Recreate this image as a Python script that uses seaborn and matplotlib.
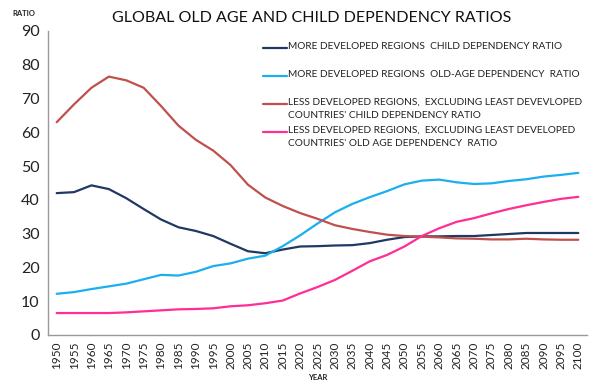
import numpy as np
import pandas as pd
import seaborn as sns
import matplotlib.pyplot as plt
from matplotlib.lines import Line2D

years = list(range(1950, 2101, 5))

# 선진국 아동 부양비
more_child = [42.0, 42.3, 44.3, 43.2, 40.5, 37.3, 34.2, 31.9, 30.8, 29.3, 27.0,
              24.8, 24.2, 25.3, 26.2, 26.3, 26.5, 26.6, 27.2, 28.2, 29.0,
              29.2, 29.2, 29.3, 29.3, 29.6, 29.9, 30.2, 30.2, 30.2, 30.2]
# 선진국 노년 부양비
more_old = [12.2, 12.7, 13.6, 14.4, 15.2, 16.5, 17.8, 17.6, 18.7, 20.4, 21.2,
            22.6, 23.5, 26.3, 29.5, 33.0, 36.3, 38.8, 40.8, 42.6, 44.6,
            45.7, 46.0, 45.2, 44.7, 44.9, 45.6, 46.1, 46.9, 47.4, 48.0]
# 개도국 아동 부양비
less_child = [63.0, 68.3, 73.2, 76.5, 75.4, 73.2, 67.8, 62.0, 57.8, 54.6, 50.3,
              44.5, 40.7, 38.2, 36.1, 34.4, 32.5, 31.4, 30.5, 29.7, 29.3,
              29.1, 28.9, 28.6, 28.5, 28.3, 28.3, 28.5, 28.3, 28.2, 28.2]
# 개도국 노년 부양비
less_old = [6.5, 6.5, 6.5, 6.5, 6.7, 7.0, 7.3, 7.6, 7.7, 7.9, 8.5,
            8.8, 9.4, 10.2, 12.3, 14.2, 16.3, 19.0, 21.8, 23.7, 26.2,
            29.3, 31.6, 33.5, 34.6, 36.0, 37.3, 38.4, 39.4, 40.3, 40.9]

labels = ["MORE DEVELOPED REGIONS  CHILD DEPENDENCY RATIO",
          "MORE DEVELOPED REGIONS  OLD-AGE DEPENDENCY  RATIO",
          "LESS DEVELOPED REGIONS,  EXCLUDING LEAST DEVEVLOPED\nCOUNTRIES' CHILD DEPENDENCY RATIO",
          "LESS DEVELOPED REGIONS,  EXCLUDING LEAST DEVELOPED\nCOUNTRIES' OLD AGE DEPENDENCY  RATIO"]
colors = ["#1F3864", "#1BAFEE", "#C0504D", "#FF2D95"]

df = pd.concat([
    pd.DataFrame({"year": years, "ratio": vals, "series": lab})
    for vals, lab in zip([more_child, more_old, less_child, less_old], labels)
])

sns.set_style("white")
plt.rcParams['font.family'] = ['Lato', 'DejaVu Sans']

fig = plt.figure(figsize=(5.95, 3.89), dpi=100)
ax = fig.add_axes([48 / 595, 54 / 389, 539 / 595, 304 / 389])

sns.lineplot(data=df, x="year", y="ratio", hue="series", palette=colors,
             linewidth=1.6, legend=False, ax=ax)

ax.set_xlim(1947.5, 2102.5)
ax.set_ylim(0, 90)
ax.set_xticks(years)
ax.set_xticklabels([str(y) for y in years], rotation=90, fontsize=8.5)
ax.set_xticks([y - 2.5 for y in years] + [2102.5], minor=True)
ax.tick_params(axis="x", which="major", length=0, pad=5)
ax.tick_params(axis="x", which="minor", length=4, color="#999999", direction="out")
ax.set_yticks(range(0, 91, 10))
ax.tick_params(axis="y", labelsize=11.5, length=4, color="#999999", direction="out", pad=2)
ax.tick_params(axis="both", colors="#999999", labelcolor="#222222")
ax.tick_params(axis="x", which="minor", colors="#999999")
for side in ["top", "right"]:
    ax.spines[side].set_visible(False)
for side in ["left", "bottom"]:
    ax.spines[side].set_color("#999999")
    ax.spines[side].set_linewidth(1)
ax.set_xlabel("")
ax.set_ylabel("")

fig.text(312 / 595, 1 - 18 / 389, "GLOBAL OLD AGE AND CHILD DEPENDENCY RATIOS",
         ha="center", va="center", fontsize=11.5, color="#111111")
fig.text(12 / 595, 1 - 13 / 389, "RATIO", ha="left", va="center",
         fontsize=5.5, fontweight="bold", color="#222222")
fig.text(318 / 595, 1 - 378 / 389, "YEAR", ha="center", va="center",
         fontsize=5.5, fontweight="bold", color="#222222")

# 범례
ys = [48, 76, 104, 132]
for y, lab, c in zip(ys, labels, colors):
    fig.add_artist(Line2D([263 / 595, 287 / 595], [1 - y / 389] * 2,
                          color=c, linewidth=1.6, transform=fig.transFigure))
    fig.text(288 / 595, 1 - (y - 6) / 389, lab, ha="left", va="top",
             fontsize=7.3, color="#222222", linespacing=1.5)

fig.savefig("out.png", dpi=100)
